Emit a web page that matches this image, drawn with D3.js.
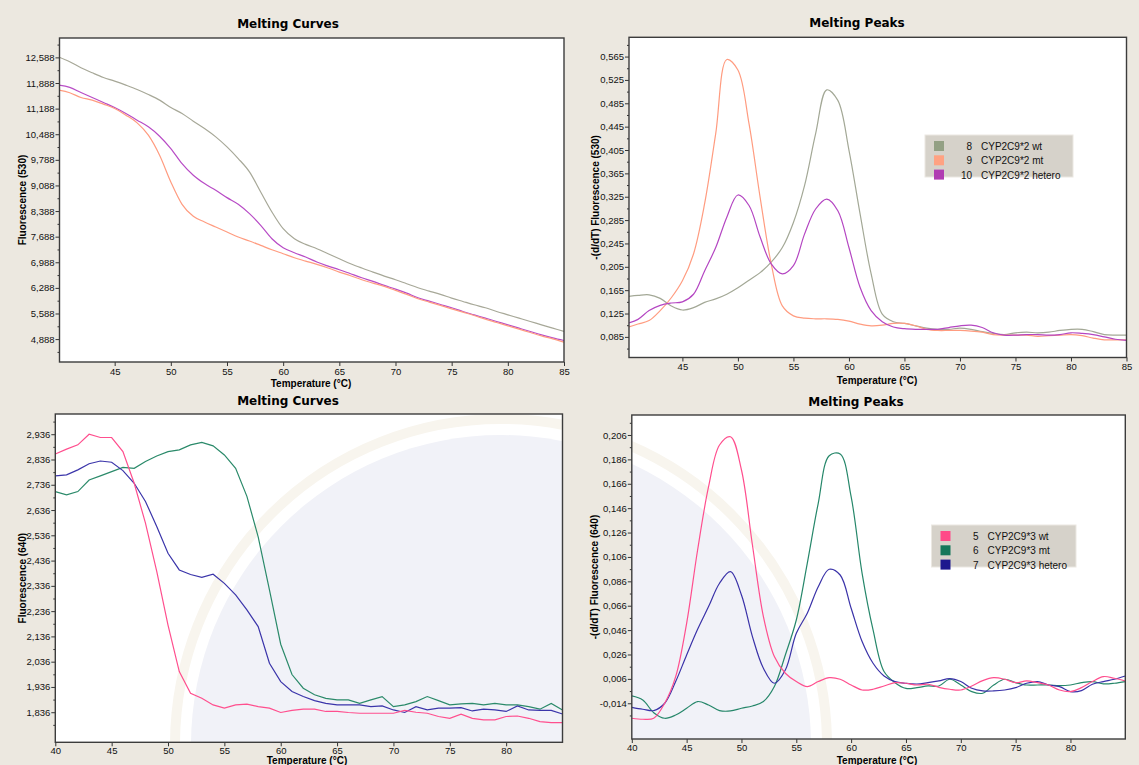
<!DOCTYPE html>
<html>
<head>
<meta charset="utf-8">
<script src="https://cdn.jsdelivr.net/npm/d3@7"></script>
<style>
  html, body { margin: 0; padding: 0; background: #ece8e0; }
  svg { display: block; }
  .tick text { font-family: "Liberation Sans", Arial, sans-serif; font-size: 9.5px; fill: #111; }
  .tick line { stroke: #333; }
</style>
</head>
<body>
<svg id="chart" width="1139" height="765"></svg>
<script>
// Temperature grid (°C) shared by every run
const temps = [40, 41, 42, 43, 44, 45, 46, 47, 48, 49,
               50, 51, 52, 53, 54, 55, 56, 57, 58, 59,
               60, 61, 62, 63, 64, 65, 66, 67, 68, 69,
               70, 71, 72, 73, 74, 75, 76, 77, 78, 79,
               80, 81, 82, 83, 84, 85];

// CYP2C9*2 — fluorescence (530)
const wt2Curve = [12600, 12469, 12305, 12168, 12040, 11940, 11830, 11712, 11575, 11420,
                  11219, 11055, 10845, 10644, 10416, 10142, 9823, 9458, 8910, 8363,
                  7906, 7633, 7478, 7359, 7222, 7085, 6948, 6830, 6720, 6610,
                  6510, 6400, 6291, 6200, 6109, 6009, 5917, 5826, 5744, 5643,
                  5552, 5461, 5370, 5278, 5187, 5096];
const mt2Curve = [11694, 11621, 11493, 11420, 11310, 11192, 11009, 10799, 10462, 9914,
                  9184, 8572, 8244, 8089, 7952, 7815, 7678, 7569, 7450, 7331,
                  7222, 7112, 7021, 6930, 6830, 6720, 6620, 6510, 6419, 6328,
                  6218, 6109, 5990, 5899, 5808, 5716, 5625, 5534, 5433, 5342,
                  5251, 5160, 5068, 4977, 4895, 4804];
const het2Curve = [11831, 11767, 11630, 11493, 11356, 11219, 11055, 10872, 10690, 10434,
                   10097, 9686, 9367, 9138, 8956, 8755, 8573, 8317, 7998, 7632,
                   7386, 7249, 7131, 6994, 6884, 6784, 6674, 6565, 6464, 6355,
                   6255, 6145, 6017, 5926, 5835, 5744, 5643, 5552, 5461, 5370,
                   5278, 5187, 5096, 5004, 4922, 4849];

// CYP2C9*2 — -(d/dT) fluorescence (530)
const wt2Peak = [0.154, 0.156, 0.157, 0.151, 0.138, 0.131, 0.135, 0.144, 0.150, 0.158,
                 0.169, 0.182, 0.195, 0.213, 0.238, 0.281, 0.344, 0.433, 0.508, 0.490,
                 0.405, 0.296, 0.193, 0.124, 0.111, 0.108, 0.104, 0.100, 0.098, 0.098,
                 0.100, 0.098, 0.094, 0.091, 0.089, 0.092, 0.093, 0.092, 0.093, 0.096,
                 0.098, 0.098, 0.094, 0.089, 0.088, 0.088];
const mt2Peak = [0.101, 0.107, 0.113, 0.130, 0.152, 0.181, 0.227, 0.313, 0.433, 0.560,
                 0.542, 0.450, 0.324, 0.210, 0.138, 0.121, 0.117, 0.116, 0.116, 0.115,
                 0.112, 0.107, 0.104, 0.105, 0.108, 0.108, 0.104, 0.098, 0.096, 0.096,
                 0.096, 0.095, 0.093, 0.089, 0.088, 0.088, 0.088, 0.086, 0.087, 0.088,
                 0.089, 0.087, 0.083, 0.080, 0.080, 0.080];
const het2Peak = [0.108, 0.115, 0.130, 0.139, 0.143, 0.145, 0.158, 0.198, 0.238, 0.290,
                  0.328, 0.310, 0.256, 0.210, 0.193, 0.207, 0.261, 0.304, 0.321, 0.301,
                  0.238, 0.170, 0.130, 0.111, 0.102, 0.099, 0.098, 0.098, 0.098, 0.101,
                  0.104, 0.105, 0.101, 0.092, 0.088, 0.088, 0.089, 0.089, 0.088, 0.089,
                  0.092, 0.091, 0.089, 0.085, 0.081, 0.079];

// CYP2C9*3 — fluorescence (640)
const wt3Curve = [2858, 2877, 2894, 2936, 2923, 2923, 2867, 2742, 2584, 2393,
                  2181, 1997, 1911, 1891, 1865, 1852, 1865, 1868, 1858, 1852,
                  1835, 1843, 1848, 1848, 1839, 1839, 1835, 1832, 1832, 1832,
                  1832, 1843, 1836, 1832, 1819, 1812, 1828, 1812, 1806, 1806,
                  1819, 1821, 1812, 1799, 1795, 1795];
const mt3Curve = [2709, 2696, 2709, 2755, 2771, 2788, 2805, 2801, 2828, 2850,
                  2867, 2874, 2894, 2904, 2890, 2854, 2801, 2690, 2530, 2320,
                  2105, 1985, 1931, 1905, 1891, 1885, 1885, 1871, 1885, 1898,
                  1858, 1865, 1878, 1898, 1882, 1865, 1869, 1871, 1865, 1871,
                  1865, 1865, 1858, 1848, 1871, 1845];
const het3Curve = [2771, 2775, 2795, 2819, 2830, 2825, 2792, 2742, 2670, 2571,
                   2465, 2399, 2381, 2370, 2382, 2346, 2300, 2241, 2175, 2030,
                   1957, 1918, 1898, 1882, 1871, 1865, 1865, 1865, 1858, 1861,
                   1845, 1835, 1858, 1845, 1852, 1852, 1854, 1841, 1848, 1845,
                   1839, 1861, 1845, 1843, 1843, 1829];

// CYP2C9*3 — -(d/dT) fluorescence (640)
const wt3Peak = [-0.0263, -0.0271, -0.0263, -0.0140, 0.0078, 0.0516, 0.1117, 0.1636, 0.1978, 0.2046,
                 0.1773, 0.1158, 0.0571, 0.0243, 0.0106, 0.0038, -0.0003, 0.0038, 0.0070, 0.0057,
                 0.0010, -0.0031, -0.0025, 0.0002, 0.0029, 0.0024, 0.0010, 0.0016, -0.0009, -0.0025,
                 -0.0031, 0.0002, 0.0046, 0.0070, 0.0057, 0.0029, 0.0043, 0.0029, 0.0010, -0.0031,
                 -0.0044, -0.0012, 0.0038, 0.0079, 0.0065, 0.0043];
const mt3Peak = [-0.0080, -0.0113, -0.0217, -0.0263, -0.0236, -0.0181, -0.0126, -0.0154, -0.0200, -0.0203,
                 -0.0181, -0.0162, -0.0126, -0.0003, 0.0256, 0.0543, 0.1008, 0.1500, 0.1890, 0.1905,
                 0.1554, 0.0926, 0.0461, 0.0120, 0.0029, -0.0018, -0.0012, 0.0002, 0.0002, 0.0057,
                 0.0010, -0.0044, -0.0058, 0.0010, 0.0057, 0.0029, 0.0010, 0.0010, 0.0010, 0.0004,
                 0.0010, 0.0029, 0.0038, 0.0019, 0.0024, 0.0038];
const het3Peak = [-0.0173, -0.0189, -0.0200, -0.0140, 0.0038, 0.0256, 0.0467, 0.0653, 0.0844, 0.0939,
                  0.0748, 0.0407, 0.0147, 0.0024, 0.0133, 0.0434, 0.0598, 0.0816, 0.0959, 0.0912,
                  0.0639, 0.0366, 0.0188, 0.0084, 0.0038, 0.0024, 0.0018, 0.0029, 0.0043, 0.0062,
                  0.0038, -0.0017, -0.0039, -0.0039, -0.0031, -0.0012, 0.0024, 0.0038, 0.0010, -0.0003,
                  -0.0044, -0.0036, 0.0016, 0.0038, 0.0057, 0.0084];

// Axis tick labels
const tempTicksTop = [45, 50, 55, 60, 65, 70, 75, 80, 85];
const tempTicksBottom = [40, 45, 50, 55, 60, 65, 70, 75, 80];
const curve530Ticks = [4888, 5588, 6288, 6988, 7688, 8388, 9088, 9788, 10488, 11188, 11888, 12588];
const peak530Ticks = [0.085, 0.125, 0.165, 0.205, 0.245, 0.285, 0.325, 0.365, 0.405, 0.445, 0.485, 0.525, 0.565];
const curve640Ticks = [1836, 1936, 2036, 2136, 2236, 2336, 2436, 2536, 2636, 2736, 2836, 2936];
const peak640Ticks = [-0.014, 0.006, 0.026, 0.046, 0.066, 0.086, 0.106, 0.126, 0.146, 0.166, 0.186, 0.206];

// Legend entries
const legend2 = [
  { id: "8",  name: "CYP2C9*2 wt",     color: "#93a084" },
  { id: "9",  name: "CYP2C9*2 mt",     color: "#ffa282" },
  { id: "10", name: "CYP2C9*2 hetero", color: "#b03cb2" }
];
const legend3 = [
  { id: "5", name: "CYP2C9*3 wt",     color: "#ff4a88" },
  { id: "6", name: "CYP2C9*3 mt",     color: "#15775a" },
  { id: "7", name: "CYP2C9*3 hetero", color: "#1d188e" }
];

const commaDecimal = d3.formatLocale({ decimal: ",", thousands: ".", grouping: [3], currency: ["", ""], minus: "-" });
const fmtThousands = d3.format(",d");
const fmtDec = commaDecimal.format(".3f");

const svg = d3.select("#chart");
const FONT = "'Liberation Sans', Arial, sans-serif";
const TITLE_FONT = "'DejaVu Sans', Verdana, sans-serif";

// faint seal tint that shows through the lower plots
const seal = { cx: 501, cy: 745, r: 310, fill: "#f1f2f8", ring: "#f8f5ee" };

const panels = [
  {
    title: "Melting Curves", titleX: 288, titleY: 28,
    box: { x0: 59.5, x1: 564, y0: 38, y1: 362 },
    xDomain: [40.09, 85], yDomain: [4262, 13118],
    xTicks: tempTicksTop, yTicks: curve530Ticks, yFmt: fmtThousands,
    yLabel: "Fluorescence (530)", yLabelX: 22, xLabelX: 311, xLabelY: 387,
    curve: d3.curveMonotoneX,
    series: [
      { values: wt2Curve,  color: "#a7a898" },
      { values: het2Curve, color: "#b84cc6" },
      { values: mt2Curve,  color: "#ff9c80" }
    ]
  },
  {
    title: "Melting Peaks", titleX: 857, titleY: 27,
    box: { x0: 629, x1: 1126.5, y0: 37.3, y1: 357.5 },
    xDomain: [40.19, 85], yDomain: [0.0497, 0.598],
    xTicks: tempTicksTop, yTicks: peak530Ticks, yFmt: fmtDec,
    yLabel: "-(d/dT) Fluorescence (530)", yLabelX: 595, xLabelX: 877, xLabelY: 384,
    curve: d3.curveCatmullRom.alpha(0.5),
    legend: { items: legend2, x: 925, y: 135, w: 148, h: 42 },
    series: [
      { values: wt2Peak,  color: "#a3a896" },
      { values: mt2Peak,  color: "#ff9c80" },
      { values: het2Peak, color: "#b446c2" }
    ]
  },
  {
    title: "Melting Curves", titleX: 288, titleY: 405,
    box: { x0: 55.3, x1: 562.5, y0: 414, y1: 742.3 },
    xDomain: [40, 85], yDomain: [1717, 3016],
    xTicks: tempTicksBottom, yTicks: curve640Ticks, yFmt: fmtThousands,
    yLabel: "Fluorescence (640)", yLabelX: 22, xLabelX: 307, xLabelY: 764,
    xTickPad: 1, curve: d3.curveLinear, tinted: true,
    series: [
      { values: mt3Curve,  color: "#2b8a6a" },
      { values: het3Curve, color: "#3b35aa" },
      { values: wt3Curve,  color: "#ff4f8e" }
    ]
  },
  {
    title: "Melting Peaks", titleX: 856, titleY: 406,
    box: { x0: 631.8, x1: 1125.3, y0: 415, y1: 739 },
    xDomain: [40, 85], yDomain: [-0.0433, 0.2224],
    xTicks: tempTicksBottom, yTicks: peak640Ticks, yFmt: fmtDec,
    yLabel: "-(d/dT) Fluorescence (640)", yLabelX: 594, xLabelX: 877, xLabelY: 763.5,
    xTickPad: 1, curve: d3.curveCatmullRom.alpha(0.5), tinted: true,
    legend: { items: legend3, x: 931.5, y: 525, w: 144.5, h: 42 },
    series: [
      { values: mt3Peak,  color: "#26876a" },
      { values: het3Peak, color: "#3a32a8" },
      { values: wt3Peak,  color: "#ff4f8e" }
    ]
  }
];

panels.forEach((p, i) => {
  const b = p.box;
  const x = d3.scaleLinear().domain(p.xDomain).range([b.x0, b.x1]);
  const y = d3.scaleLinear().domain(p.yDomain).range([b.y1, b.y0]);
  const g = svg.append("g");

  const clipId = "clip" + i;
  svg.append("clipPath").attr("id", clipId).append("rect")
    .attr("x", b.x0).attr("y", b.y0).attr("width", b.x1 - b.x0).attr("height", b.y1 - b.y0);

  // plot area
  g.append("rect").attr("x", b.x0).attr("y", b.y0)
    .attr("width", b.x1 - b.x0).attr("height", b.y1 - b.y0).attr("fill", "#fff");
  if (p.tinted) {
    const wm = g.append("g").attr("clip-path", `url(#${clipId})`);
    wm.append("circle").attr("cx", seal.cx).attr("cy", seal.cy).attr("r", seal.r + 16)
      .attr("fill", "none").attr("stroke", seal.ring).attr("stroke-width", 10);
    wm.append("circle").attr("cx", seal.cx).attr("cy", seal.cy).attr("r", seal.r)
      .attr("fill", seal.fill);
  }

  // title
  g.append("text").attr("x", p.titleX).attr("y", p.titleY)
    .attr("text-anchor", "middle").attr("font-family", TITLE_FONT)
    .attr("font-weight", "bold").attr("font-size", 12).attr("fill", "#000")
    .text(p.title);

  // y axis with half-step minor ticks
  const yStep = p.yTicks[1] - p.yTicks[0];
  const minorY = p.yTicks.map(v => v + yStep / 2).concat([p.yTicks[0] - yStep / 2])
    .filter(v => v > p.yDomain[0] && v < p.yDomain[1]);
  g.append("g").attr("transform", `translate(${b.x0},0)`)
    .call(d3.axisLeft(y).tickValues(minorY).tickSize(2).tickFormat(""))
    .call(s => s.select(".domain").remove());
  g.append("g").attr("transform", `translate(${b.x0},0)`)
    .call(d3.axisLeft(y).tickValues(p.yTicks).tickSize(4).tickPadding(1).tickFormat(p.yFmt))
    .call(s => s.select(".domain").remove());

  // x axis
  g.append("g").attr("transform", `translate(0,${b.y1})`)
    .call(d3.axisBottom(x).tickValues(p.xTicks).tickSize(4)
      .tickPadding(p.xTickPad != null ? p.xTickPad : 2).tickFormat(d3.format("d")))
    .call(s => s.select(".domain").remove())
    .call(s => s.selectAll(".tick text").attr("font-size", 10.5));

  // axis titles
  g.append("text").attr("x", p.xLabelX).attr("y", p.xLabelY)
    .attr("text-anchor", "middle").attr("font-family", FONT)
    .attr("font-weight", "bold").attr("font-size", 10).text("Temperature (°C)");
  const yMid = (b.y0 + b.y1) / 2;
  g.append("text").attr("transform", `translate(${p.yLabelX},${yMid}) rotate(-90)`)
    .attr("text-anchor", "middle").attr("dy", "0.35em").attr("font-family", FONT)
    .attr("font-weight", "bold").attr("font-size", 10).text(p.yLabel);

  // curves
  const line = d3.line().x((d, k) => x(temps[k])).y(d => y(d)).curve(p.curve);
  const lines = g.append("g").attr("clip-path", `url(#${clipId})`);
  p.series.forEach(s => {
    lines.append("path").datum(s.values).attr("d", line)
      .attr("fill", "none").attr("stroke", s.color).attr("stroke-width", 1.2);
  });

  // frame
  g.append("rect").attr("x", b.x0).attr("y", b.y0)
    .attr("width", b.x1 - b.x0).attr("height", b.y1 - b.y0)
    .attr("fill", "none").attr("stroke", "#3c3c3c").attr("stroke-width", 1.4);

  // legend
  if (p.legend) {
    const L = p.legend;
    const lg = g.append("g");
    lg.append("rect").attr("x", L.x).attr("y", L.y).attr("width", L.w).attr("height", L.h)
      .attr("fill", "#d6d2ca").attr("stroke", "#ebe8e2").attr("stroke-width", 1);
    L.items.forEach((it, k) => {
      const cy = L.y + 5 + k * 14.3 + 1;
      lg.append("rect").attr("x", L.x + 9).attr("y", cy).attr("width", 10).attr("height", 10)
        .attr("fill", it.color);
      lg.append("text").attr("x", L.x + 47).attr("y", cy + 9).attr("text-anchor", "end")
        .attr("font-family", FONT).attr("font-size", 10).attr("fill", "#111").text(it.id);
      lg.append("text").attr("x", L.x + 56).attr("y", cy + 9)
        .attr("font-family", FONT).attr("font-size", 10).attr("fill", "#111").text(it.name);
    });
  }
});
</script>
</body>
</html>
